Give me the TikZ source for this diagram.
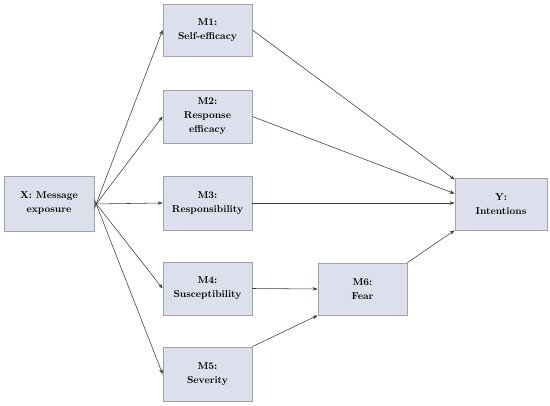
\documentclass[tikz,border=0pt]{standalone}
\usetikzlibrary{arrows.meta}
\definecolor{boxfill}{HTML}{DDE0EC}
\definecolor{boxline}{HTML}{A0A3AC}
\definecolor{arrowc}{HTML}{3A3A3A}
\begin{document}
\begin{tikzpicture}[x=1pt,y=-1pt,
  box/.style={draw=boxline, line width=0.8pt, fill=boxfill, align=center,
    inner sep=0pt, font=\fontsize{10}{14}\selectfont\bfseries},
  conn/.style={draw=arrowc, line width=0.55pt, -{Stealth[length=5pt,width=3.6pt]}}]
\useasboundingbox (0,0) rectangle (550,406);
\fill[white] (0,0) rectangle (550,406);
\node[box, minimum width=90pt, minimum height=55pt] (X) at (49,203.5) {X: Message\\exposure};
\node[box, minimum width=89pt, minimum height=52pt] (M1) at (207.5,30) {M1:\\Self-efficacy};
\node[box, minimum width=89pt, minimum height=53pt] (M2) at (207.5,116.5) {M2:\\Response\\efficacy};
\node[box, minimum width=89pt, minimum height=54pt] (M3) at (207.5,203) {M3:\\Responsibility};
\node[box, minimum width=89pt, minimum height=53pt] (M4) at (207.5,288.5) {M4:\\Susceptibility};
\node[box, minimum width=89pt, minimum height=54pt] (M5) at (207.5,374) {M5:\\Severity};
\node[box, minimum width=89pt, minimum height=52pt] (M6) at (362.5,289) {M6:\\Fear};
\node[box, minimum width=92pt, minimum height=52pt] (Y) at (501,204) {Y:\\Intentions};
\draw[conn] ([yshift=-5pt]X.east) -- (M1.west);
\draw[conn] ([yshift=-3pt]X.east) -- (M2.west);
\draw[conn] ([yshift=-0.5pt]X.east) -- (M3.west);
\draw[conn] ([yshift=2pt]X.east) -- (M4.west);
\draw[conn] ([yshift=4pt]X.east) -- (M5.west);
\draw[conn] (M1.east) -- ([yshift=-2pt]Y.north west);
\draw[conn] (M2.east) -- ([yshift=-16pt]Y.north west);
\draw[conn] (M3.east) -- (M3.east -| Y.west);
\draw[conn] (M4.east) -- (M6.west);
\draw[conn] (M5.north east) -- (M6.south west);
\draw[conn] (M6.north east) -- (Y.south west);
\end{tikzpicture}
\end{document}
